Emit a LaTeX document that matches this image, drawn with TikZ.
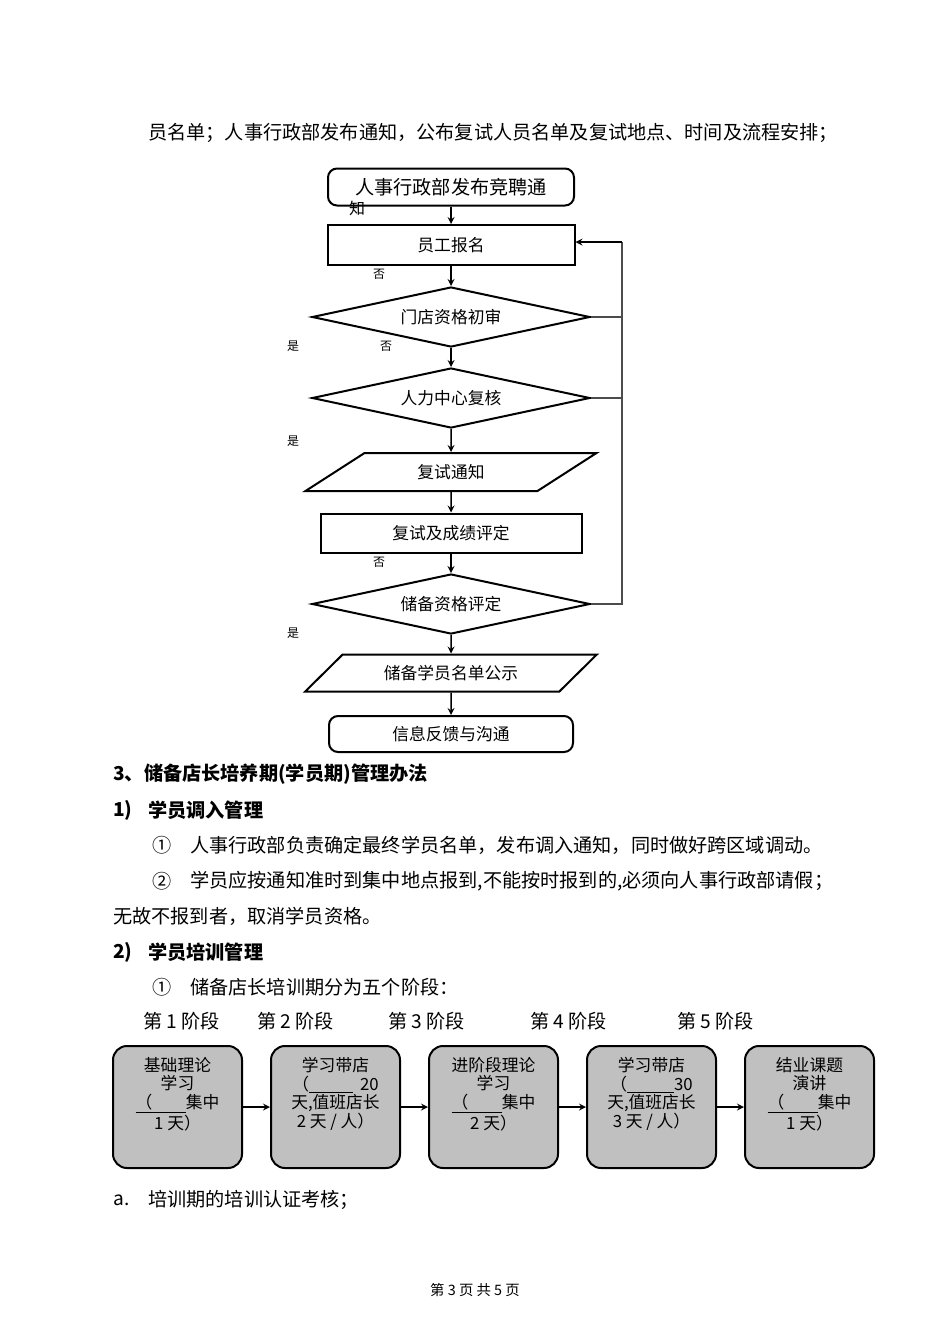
\documentclass[tikz,border=0pt]{standalone}
\usepackage{fontspec}
\setmainfont{Liberation Serif}
\newfontfamily\cjk{Noto Sans CJK SC}
\usetikzlibrary{shapes.geometric}
\newlength{\du}
\setlength{\du}{0.6263pt}
\definecolor{stagegray}{rgb}{0.752941, 0.752941, 0.752941}
\definecolor{backcolor}{rgb}{0.300000, 0.300000, 0.300000}
\tikzset{
  bodytxt/.style={anchor=west, inner sep=0pt, font=\cjk\fontsize{12}{14}\selectfont},
  headtxt/.style={anchor=west, inner sep=0pt, font=\cjk\bfseries\fontsize{12}{14}\selectfont},
  marktxt/.style={inner sep=0pt, font=\cjk\fontsize{7.5}{9}\selectfont},
  termbox/.style={draw, line width=2\du, rounded corners=9\du, inner sep=0pt},
  procbox/.style={draw, line width=2\du, inner sep=0pt, font=\cjk\fontsize{10.5}{12}\selectfont},
  decbox/.style={draw, diamond, aspect=4.6, line width=2\du, inner sep=0pt,
    minimum width=278\du, minimum height=60\du, font=\cjk\fontsize{10.5}{12}\selectfont},
  iobox/.style={draw, trapezium, trapezium left angle=34, trapezium right angle=146,
    trapezium stretches=true, line width=2\du, inner sep=0pt,
    minimum width=292\du, font=\cjk\fontsize{10.5}{12}\selectfont},
  stagebox/.style={draw, fill=stagegray, line width=2\du, rounded corners=14\du,
    minimum width=129\du, minimum height=122\du},
  stagetxt/.style={align=center, inner sep=0pt, font=\cjk\fontsize{10.5}{11.6}\selectfont},
  flowarr/.style={->, >=stealth, line width=1.5\du},
  backline/.style={draw=backcolor, line width=1.3\du}
}
\begin{document}
\begin{tikzpicture}
\pgftransformxscale{1.000000}
\pgftransformyscale{-1.000000}
\useasboundingbox (0\du,0\du) rectangle (950\du,1344\du);
% text above the chart
\node[bodytxt] (line0) at (148\du,133\du){员名单；人事行政部发布通知，公布复试人员名单及复试地点、时间及流程安排；};
% flow chart
\node[termbox, minimum width=246\du, minimum height=37\du, font=\cjk\fontsize{12}{14}\selectfont] (notice) at (451\du,187\du){人事行政部发布竞聘通};
\node[marktxt, font=\cjk\fontsize{10}{12}\selectfont] (notice2) at (357\du,208\du){知};
\node[procbox, minimum width=247\du, minimum height=40\du] (signup) at (451\du,245\du){员工报名};
\node[decbox] (shop) at (451\du,317\du){门店资格初审};
\node[decbox] (center) at (451\du,398\du){人力中心复核};
\node[iobox, minimum height=38\du] (retest) at (451\du,472\du){复试通知};
\node[procbox, minimum width=261\du, minimum height=39\du] (score) at (451\du,533\du){复试及成绩评定};
\node[decbox] (grade) at (451\du,604\du){储备资格评定};
\node[iobox, minimum height=37\du] (publish) at (451\du,673\du){储备学员名单公示};
\node[termbox, minimum width=244\du, minimum height=36\du, font=\cjk\fontsize{10.5}{12}\selectfont] (feedback) at (451\du,734\du){信息反馈与沟通};
% yes / no marks
\node[marktxt] (no1) at (379\du,274\du){否};
\node[marktxt] (yes1) at (293\du,346\du){是};
\node[marktxt] (no2) at (386\du,346\du){否};
\node[marktxt] (yes2) at (293\du,441\du){是};
\node[marktxt] (no3) at (379\du,562\du){否};
\node[marktxt] (yes3) at (293\du,633\du){是};
% arrows down
\draw[flowarr] (notice) -- (signup);
\draw[flowarr] (signup) -- (shop);
\draw[flowarr] (shop) -- (center);
\draw[flowarr] (center) -- (retest);
\draw[flowarr] (retest) -- (score);
\draw[flowarr] (score) -- (grade);
\draw[flowarr] (grade) -- (publish);
\draw[flowarr] (publish) -- (feedback);
% back line
\coordinate (backtop) at (622\du,242\du);
\coordinate (backbot) at (622\du,605\du);
\draw[backline] (backbot) -- (backtop);
\draw[backline] (shop.east) -- (shop.east -| backtop);
\draw[backline] (center.east) -- (center.east -| backtop);
\draw[backline] (grade.east) -- (grade.east -| backtop);
\draw[flowarr] (backtop) -- (signup.east |- backtop);
% text below the chart
\node[headtxt] (head3) at (113\du,774\du){3、储备店长培养期(学员期)管理办法};
\node[headtxt] (head31no) at (113\du,810\du){1)};
\node[headtxt] (head31) at (148\du,810\du){学员调入管理};
\node[bodytxt] (item1no) at (152\du,845\du){①};
\node[bodytxt] (item1) at (190\du,845\du){人事行政部负责确定最终学员名单，发布调入通知，同时做好跨区域调动。};
\node[bodytxt] (item2no) at (152\du,881\du){②};
\node[bodytxt] (item2) at (190\du,881\du){学员应按通知准时到集中地点报到,不能按时报到的,必须向人事行政部请假；};
\node[bodytxt] (item2b) at (113\du,916\du){无故不报到者，取消学员资格。};
\node[headtxt] (head32no) at (113\du,952\du){2)};
\node[headtxt] (head32) at (148\du,952\du){学员培训管理};
\node[bodytxt] (item3no) at (152\du,987\du){①};
\node[bodytxt] (item3) at (190\du,987\du){储备店长培训期分为五个阶段：};
% stages
\node[bodytxt] (st1) at (143\du,1021\du){第 1 阶段};
\node[bodytxt] (st2) at (257\du,1021\du){第 2 阶段};
\node[bodytxt] (st3) at (388\du,1021\du){第 3 阶段};
\node[bodytxt] (st4) at (530\du,1021\du){第 4 阶段};
\node[bodytxt] (st5) at (677\du,1021\du){第 5 阶段};
\node[stagebox] (s1) at (177.5\du,1107\du){};
\node[stagebox] (s2) at (335.5\du,1107\du){};
\node[stagebox] (s3) at (493.5\du,1107\du){};
\node[stagebox] (s4) at (651.5\du,1107\du){};
\node[stagebox] (s5) at (809.5\du,1107\du){};
\node[stagetxt] (s1txt) at (177.5\du,1094\du){基础理论\\学习\\\underline{（\hspace{2em}}集中\\1 天）};
\node[stagetxt] (s2txt) at (335.5\du,1094\du){学习带店\\（\underline{\hspace{2.6em}}\ \ 20\\天,值班店长\\2 天 / 人）};
\node[stagetxt] (s3txt) at (493.5\du,1094\du){进阶段理论\\学习\\\underline{（\hspace{2em}}集中\\2 天）};
\node[stagetxt] (s4txt) at (651.5\du,1094\du){学习带店\\（\underline{\hspace{2.8em}}30\\天,值班店长\\3 天 / 人）};
\node[stagetxt] (s5txt) at (809.5\du,1094\du){结业课题\\演讲\\\underline{（\hspace{2em}}集中\\1 天）};
\draw[flowarr] (s1) -- (s2);
\draw[flowarr] (s2) -- (s3);
\draw[flowarr] (s3) -- (s4);
\draw[flowarr] (s4) -- (s5);
\node[bodytxt] (itemano) at (113\du,1200\du){a.};
\node[bodytxt] (itema) at (148\du,1200\du){培训期的培训认证考核；};
% page footer
\node[marktxt, font=\cjk\fontsize{9}{11}\selectfont] (footer) at (475\du,1290\du){第 3 页 共 5 页};
\end{tikzpicture}
\end{document}
